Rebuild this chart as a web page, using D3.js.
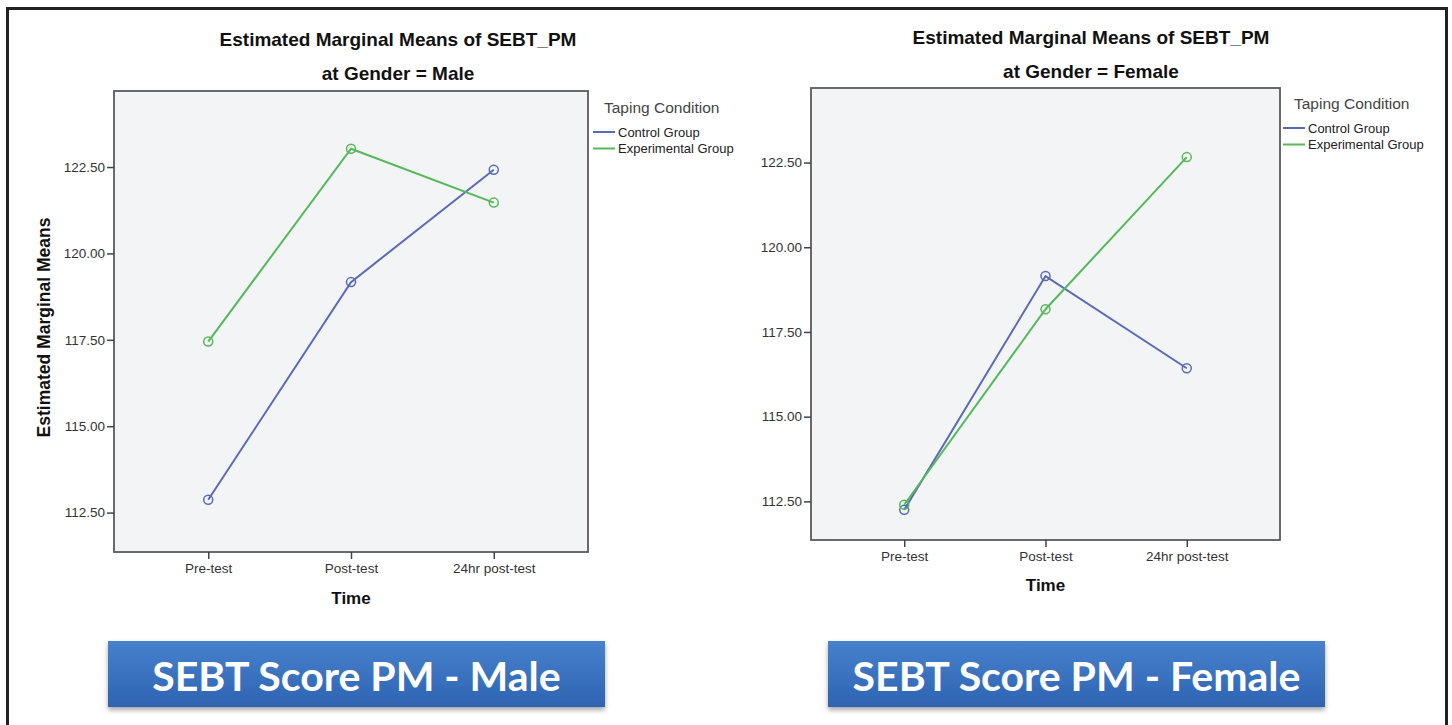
<!DOCTYPE html>
<html><head><meta charset="utf-8">
<script src="https://cdn.jsdelivr.net/npm/d3@7"></script>
<style>
html,body{margin:0;padding:0;background:#fff;}
svg{display:block;}
</style></head>
<body>
<svg id="chart" width="1452" height="725"></svg>
<script>
// ---- data ----
const timepoints = ["Pre-test", "Post-test", "24hr post-test"];
const groups = ["Control Group", "Experimental Group"];
const maleControl = [112.87, 119.17, 122.42];
const maleExperimental = [117.45, 123.03, 121.47];
const femaleControl = [112.25, 119.15, 116.43];
const femaleExperimental = [112.40, 118.17, 122.66];
const yTicks = [112.5, 115, 117.5, 120, 122.5];
const titleLine1 = "Estimated Marginal Means of SEBT_PM";
const maleSubtitle = "at Gender = Male";
const femaleSubtitle = "at Gender = Female";
const maleBanner = "SEBT Score PM - Male";
const femaleBanner = "SEBT Score PM - Female";

const colors = {"Control Group": "#5a6ab6", "Experimental Group": "#55b85a"};
const FONT = "'Liberation Sans', Arial, sans-serif";

const svg = d3.select("#chart");

// defs: gradient + shadow for banners
const defs = svg.append("defs");
const grad = defs.append("linearGradient").attr("id", "btnGrad").attr("x1", 0).attr("y1", 0).attr("x2", 0).attr("y2", 1);
grad.append("stop").attr("offset", "0%").attr("stop-color", "#4781cc");
grad.append("stop").attr("offset", "100%").attr("stop-color", "#2e64b3");
const filt = defs.append("filter").attr("id", "shadow").attr("x", "-5%").attr("y", "-20%").attr("width", "110%").attr("height", "160%");
filt.append("feDropShadow").attr("dx", 0).attr("dy", 3).attr("stdDeviation", 2.5).attr("flood-color", "#000").attr("flood-opacity", 0.35);

// outer frame
svg.append("rect").attr("x", 7.5).attr("y", 8.5).attr("width", 1439).attr("height", 730)
  .attr("fill", "none").attr("stroke", "#222").attr("stroke-width", 3);

function panel(cfg) {
  const {left, top, right, bottom, series, subtitle, showYTitle, titleCx, timeY, legendX, legendY, banner} = cfg;
  const g = svg.append("g");
  const x = d3.scalePoint().domain(timepoints).range([left, right]).padding(0.66);
  const y = d3.scaleLinear().domain([111.36, 124.7]).range([bottom, top]);

  // titles
  g.append("text").attr("x", titleCx).attr("y", cfg.titleY).attr("text-anchor", "middle")
    .attr("font-family", FONT).attr("font-weight", "bold").attr("font-size", 19).attr("fill", "#111").text(titleLine1);
  g.append("text").attr("x", titleCx).attr("y", cfg.titleY + 34).attr("text-anchor", "middle")
    .attr("font-family", FONT).attr("font-weight", "bold").attr("font-size", 19).attr("fill", "#111").text(subtitle);

  // plot background
  g.append("rect").attr("x", left).attr("y", top).attr("width", right - left).attr("height", bottom - top)
    .attr("fill", "#f3f4f6").attr("stroke", "#5a5a5a").attr("stroke-width", 1.8);

  // y axis
  const yAxis = d3.axisLeft(y).tickValues(yTicks).tickSize(7).tickPadding(2).tickFormat(d3.format(".2f"));
  const ya = g.append("g").attr("transform", `translate(${left},0)`).call(yAxis);
  ya.select(".domain").remove();
  ya.selectAll(".tick line").attr("stroke", "#444").attr("stroke-width", 1.5);
  ya.selectAll(".tick text").attr("font-family", FONT).attr("font-size", 13.5).attr("fill", "#333");

  // x axis
  const xAxis = d3.axisBottom(x).tickSize(7).tickPadding(4);
  const xa = g.append("g").attr("transform", `translate(0,${bottom})`).call(xAxis);
  xa.select(".domain").remove();
  xa.selectAll(".tick line").attr("stroke", "#444").attr("stroke-width", 1.5);
  xa.selectAll(".tick text").attr("font-family", FONT).attr("font-size", 13.5).attr("fill", "#333");

  // axis titles
  g.append("text").attr("x", (x(timepoints[0]) + x(timepoints[2])) / 2).attr("y", timeY).attr("text-anchor", "middle")
    .attr("font-family", FONT).attr("font-weight", "bold").attr("font-size", 17).attr("fill", "#111").text("Time");
  if (showYTitle) {
    g.append("text").attr("transform", `translate(${left - 64},${(top + bottom) / 2 + 6}) rotate(-90)`)
      .attr("text-anchor", "middle").attr("font-family", FONT).attr("font-weight", "bold")
      .attr("font-size", 17.5).attr("fill", "#111").text("Estimated Marginal Means");
  }

  // lines + markers
  const line = d3.line().x((d, i) => x(timepoints[i])).y(d => y(d));
  groups.forEach(grp => {
    const vals = series[grp];
    g.append("path").datum(vals).attr("d", line).attr("fill", "none")
      .attr("stroke", colors[grp]).attr("stroke-width", 2);
    g.selectAll(null).data(vals).enter().append("circle")
      .attr("cx", (d, i) => x(timepoints[i])).attr("cy", d => y(d)).attr("r", 4.5)
      .attr("fill", "none").attr("stroke", colors[grp]).attr("stroke-width", 1.5);
  });

  // legend
  g.append("text").attr("x", legendX + 11).attr("y", legendY).attr("font-family", FONT)
    .attr("font-size", 15.5).attr("fill", "#444").text("Taping Condition");
  groups.forEach((grp, i) => {
    const ly = legendY + 19 + i * 16.5;
    g.append("line").attr("x1", legendX).attr("x2", legendX + 22).attr("y1", ly).attr("y2", ly)
      .attr("stroke", colors[grp]).attr("stroke-width", 2);
    g.append("text").attr("x", legendX + 25).attr("y", ly + 4.5).attr("font-family", FONT)
      .attr("font-size", 13).attr("fill", "#222").text(grp);
  });

  // banner
  const bg = svg.append("g");
  bg.append("rect").attr("x", banner.x).attr("y", 641).attr("width", 497).attr("height", 66)
    .attr("fill", "url(#btnGrad)").attr("filter", "url(#shadow)");
  bg.append("text").attr("x", banner.x + 248.5).attr("y", 691).attr("text-anchor", "middle")
    .attr("font-family", "Lato, 'Open Sans', sans-serif").attr("font-weight", "bold")
    .attr("font-size", 41).attr("fill", "#fff").text(banner.text);
}

panel({
  left: 114, top: 91, right: 588, bottom: 552,
  series: {"Control Group": maleControl, "Experimental Group": maleExperimental},
  subtitle: maleSubtitle, showYTitle: true, titleCx: 398, titleY: 46, timeY: 604,
  legendX: 593, legendY: 113, banner: {x: 108, text: maleBanner}
});
panel({
  left: 811, top: 88, right: 1280, bottom: 540,
  series: {"Control Group": femaleControl, "Experimental Group": femaleExperimental},
  subtitle: femaleSubtitle, showYTitle: false, titleCx: 1091, titleY: 44, timeY: 591,
  legendX: 1283, legendY: 109, banner: {x: 828, text: femaleBanner}
});
</script>
</body></html>
